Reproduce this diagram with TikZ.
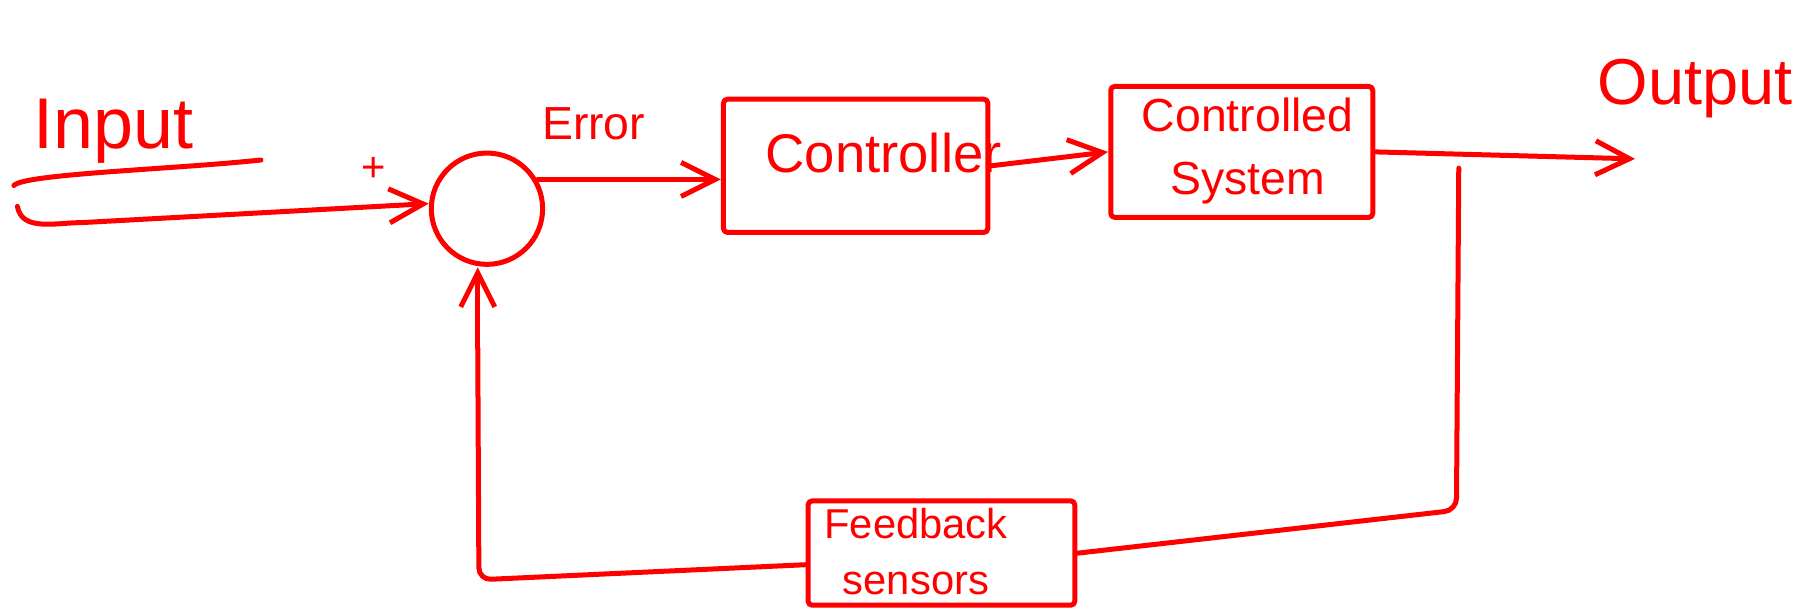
\documentclass[tikz,border=0pt]{standalone}
\usepackage{fontspec}
\setmainfont{Liberation Sans}
\usetikzlibrary{arrows.meta}
\definecolor{inkred}{RGB}{255,0,0}
\tikzset{
  ink/.style={draw=inkred, line width=5pt, line cap=round, line join=round},
  blockbox/.style={ink, rectangle, rounded corners=4pt},
  lbl/.style={text=inkred, inner sep=0pt, align=center},
  flow/.style={ink, -{Straight Barb[length=34pt,width=34pt,line width=5pt]}},
  wire/.style={ink, rounded corners=12pt},
}
\begin{document}
\begin{tikzpicture}[x=1pt,y=-1pt,scale=1.15944,transform shape]
\useasboundingbox (0,0) rectangle (1568,528);

% blocks
\node[ink, circle, minimum size=96pt, inner sep=0pt] (sum) at (420,180) {};
\node[blockbox, minimum width=228pt, minimum height=115pt] (ctrl) at (738,143) {};
\node[blockbox, minimum width=226pt, minimum height=113pt] (cs) at (1071,131) {};
\node[blockbox, minimum width=230pt, minimum height=90pt] (fb) at (812,477) {};

% labels
\node[lbl, font=\fontsize{62}{66}\selectfont, anchor=base] (inlbl) at (98,128) {Input};
\node[lbl, font=\fontsize{36}{40}\selectfont] (plus) at (322,146) {+};
\node[lbl, font=\fontsize{40}{44}\selectfont, anchor=base] (errlbl) at (512,120) {Error};
\node[lbl, font=\fontsize{47}{50}\selectfont] (ctrltxt) at (762,132) {Controller};
\node[lbl, font=\fontsize{40}{54}\selectfont] (cstxt) at (1076,130) {Controlled\\System};
\node[lbl, font=\fontsize{36}{48}\selectfont] (fbtxt) at (790,476) {Feedback\\sensors};
\node[lbl, font=\fontsize{56}{60}\selectfont, anchor=base] (outlbl) at (1462,90) {Output};

% coordinates
\coordinate (start) at (15,178);
\coordinate (bend) at (70,192);
\coordinate (branch) at (1258,145);
\coordinate (drop) at (1256,440);
\coordinate (outend) at (1410,137);
\coordinate (corner) at (413,500);

% underline of Input
\draw[ink] (12,160) .. controls (20,150) and (150,146) .. (225,138);

% connectors
\draw[flow] (start) to[out=-80,in=180] (bend) -- (sum.175);
\draw[flow] (sum.30) -- (sum.30 -| ctrl.west);
\draw[flow] (ctrl.east) -- (cs.west);
\draw[flow] (cs.east) -- (outend);
\draw[wire] (branch) -- (drop) -- (fb.east);
\draw[wire] ([yshift=-10pt]fb.west) -- (corner) -- ([xshift=-8pt]sum.south |- 0,300);
\draw[flow] ([xshift=-8pt]sum.south |- 0,300) -- ([xshift=-8pt]sum.south);
\end{tikzpicture}
\end{document}
